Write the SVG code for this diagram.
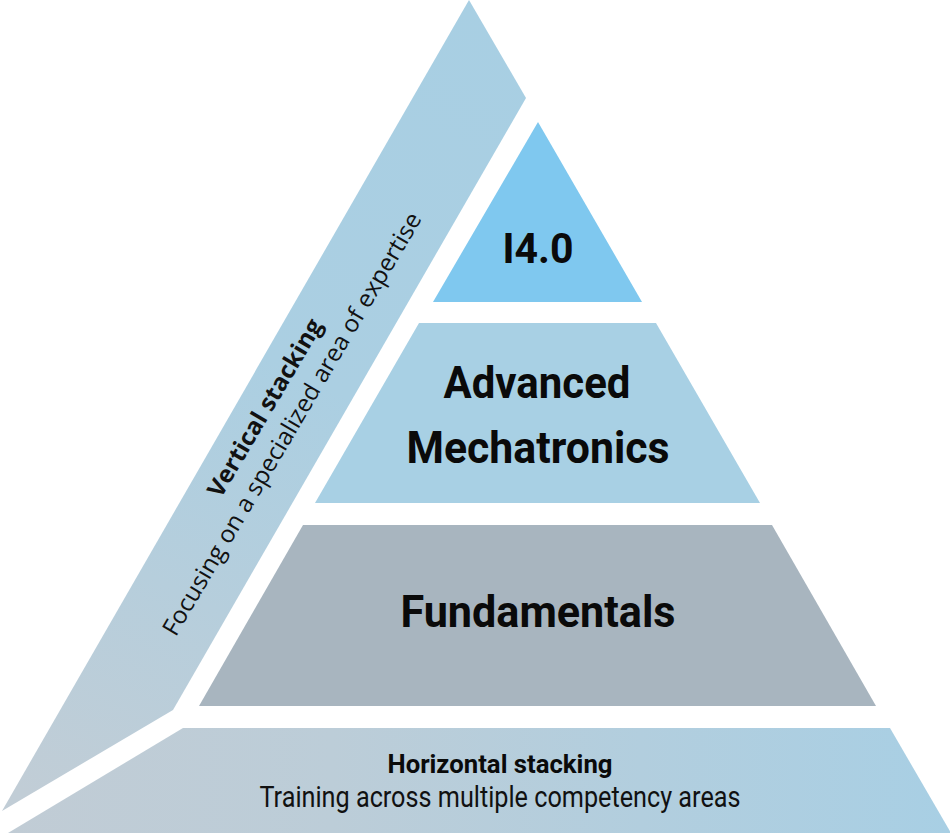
<svg xmlns="http://www.w3.org/2000/svg" width="950" height="833" viewBox="0 0 950 833">
  <defs>
    <linearGradient id="gBand" gradientUnits="userSpaceOnUse" x1="469" y1="0" x2="60" y2="811">
      <stop offset="0" stop-color="#a8cfe3"/>
      <stop offset="0.45" stop-color="#abcfe2"/>
      <stop offset="1" stop-color="#c1cdd6"/>
    </linearGradient>
    <linearGradient id="gBase" gradientUnits="userSpaceOnUse" x1="0" y1="780" x2="950" y2="780">
      <stop offset="0" stop-color="#c1ccd5"/>
      <stop offset="0.35" stop-color="#bccdd8"/>
      <stop offset="1" stop-color="#a8cfe4"/>
    </linearGradient>
    <style>
      .lbl { font-family: Roboto, "Liberation Sans", sans-serif; font-weight: 700; fill: #0a0a0a; text-anchor: middle; }
      .sub { font-family: Roboto, "Liberation Sans", sans-serif; font-weight: 400; fill: #111111; text-anchor: middle; }
      .rot { font-family: "Open Sans", "Liberation Sans", sans-serif; fill: #111111; text-anchor: middle; }
    </style>
  </defs>

  <g id="vertical-stacking">
    <polygon points="469,0 526,98 173,710 2,811" fill="url(#gBand)"/>
    <text class="rot" font-weight="700" font-size="24" x="272" y="412" transform="rotate(-59.5 272 412)" textLength="202" lengthAdjust="spacingAndGlyphs">Vertical stacking</text>
    <text class="rot" font-weight="400" font-size="24" x="299" y="428" transform="rotate(-59.5 299 428)" textLength="486" lengthAdjust="spacingAndGlyphs">Focusing on a specialized area of expertise</text>
  </g>

  <g id="i40">
    <polygon points="538,122 642,302 433,302" fill="#7fc8ef"/>
    <text class="lbl" font-size="43" x="538" y="263" textLength="71" lengthAdjust="spacingAndGlyphs">I4.0</text>
  </g>

  <g id="advanced-mechatronics">
    <polygon points="419,323 656,323 760,503 315,503" fill="#a8d0e4"/>
    <text class="lbl" font-size="44" x="537" y="398" textLength="187" lengthAdjust="spacingAndGlyphs">Advanced</text>
    <text class="lbl" font-size="44" x="538" y="463" textLength="263" lengthAdjust="spacingAndGlyphs">Mechatronics</text>
  </g>

  <g id="fundamentals">
    <polygon points="303,525 772,525 876,706 199,706" fill="#a8b5bf"/>
    <text class="lbl" font-size="45" x="538" y="627" textLength="275" lengthAdjust="spacingAndGlyphs">Fundamentals</text>
  </g>

  <g id="horizontal-stacking">
    <polygon points="183,728 890,728 951,833 8,833" fill="url(#gBase)"/>
    <text class="lbl" font-size="25" x="500" y="773" textLength="225" lengthAdjust="spacingAndGlyphs">Horizontal stacking</text>
    <text class="sub" font-size="30" x="500" y="807" textLength="481" lengthAdjust="spacingAndGlyphs">Training across multiple competency areas</text>
  </g>

  <g id="connectors"></g>
</svg>
